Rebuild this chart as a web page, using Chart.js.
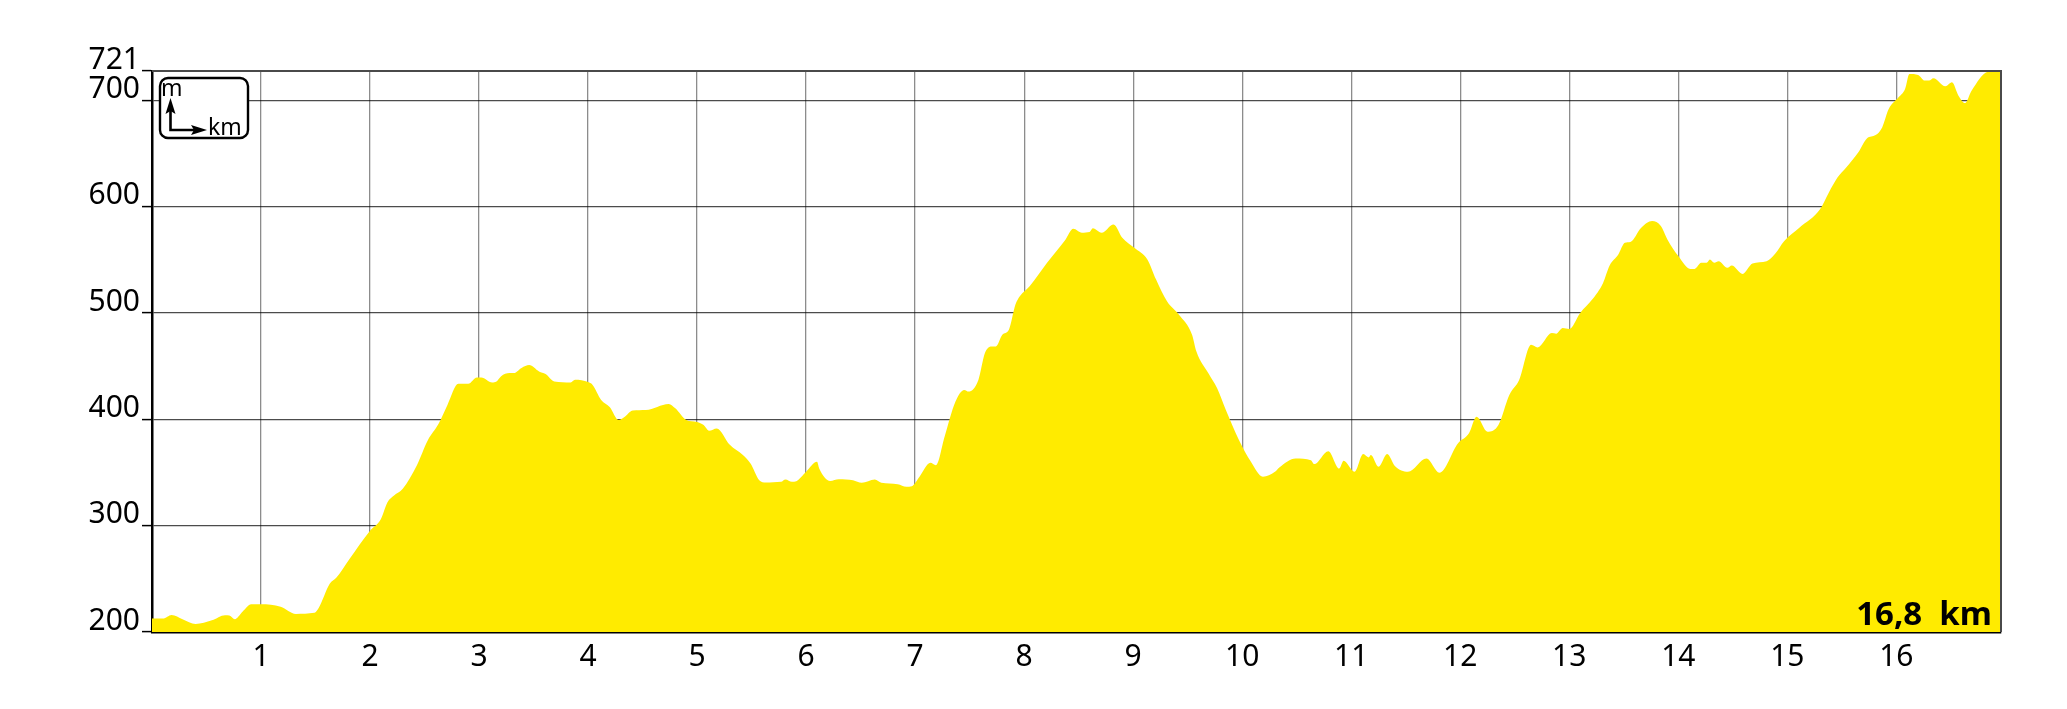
<!DOCTYPE html>
<html>
<head>
<meta charset="utf-8">
<script src="https://cdn.jsdelivr.net/npm/chart.js@4/dist/chart.umd.min.js"></script>
<style>
  html, body { margin: 0; padding: 0; background: #fff; }
  #wrap { width: 2067px; height: 709px; position: relative; }
</style>
</head>
<body>
<div id="wrap"><canvas id="c"></canvas></div>
<script>
// ---- data ----
const distancesKm = [
  0.00, 0.10, 0.18, 0.28, 0.40, 0.55, 0.67, 0.71, 0.76, 0.83, 0.91, 1.00, 1.18, 1.32, 1.49, 1.53,
  1.63, 1.69, 1.81, 2.00, 2.10, 2.16, 2.22, 2.30, 2.43, 2.53, 2.63, 2.71, 2.81, 2.90, 2.98, 3.02,
  3.12, 3.16, 3.20, 3.28, 3.32, 3.39, 3.46, 3.55, 3.61, 3.69, 3.84, 3.88, 4.00, 4.04, 4.12, 4.20,
  4.28, 4.33, 4.41, 4.53, 4.74, 4.80, 4.90, 5.00, 5.06, 5.11, 5.18, 5.30, 5.42, 5.49, 5.57, 5.63,
  5.77, 5.81, 5.87, 5.91, 6.00, 6.10, 6.12, 6.22, 6.30, 6.43, 6.51, 6.63, 6.69, 6.84, 6.92, 6.97,
  7.04, 7.14, 7.19, 7.27, 7.37, 7.45, 7.49, 7.58, 7.64, 7.70, 7.74, 7.80, 7.86, 7.92, 7.96, 8.05,
  8.21, 8.38, 8.45, 8.53, 8.60, 8.63, 8.71, 8.82, 8.90, 9.01, 9.13, 9.21, 9.31, 9.42, 9.54, 9.58,
  9.69, 9.77, 9.85, 9.97, 10.08, 10.19, 10.30, 10.34, 10.49, 10.63, 10.66, 10.79, 10.89, 10.93, 11.03, 11.11,
  11.16, 11.18, 11.25, 11.33, 11.40, 11.52, 11.69, 11.81, 11.98, 12.08, 12.15, 12.25, 12.35, 12.45, 12.54, 12.65,
  12.71, 12.84, 12.88, 12.94, 13.00, 13.10, 13.21, 13.31, 13.37, 13.45, 13.51, 13.56, 13.66, 13.76, 13.84, 13.90,
  14.00, 14.11, 14.15, 14.21, 14.26, 14.29, 14.33, 14.37, 14.45, 14.49, 14.59, 14.68, 14.81, 14.89, 14.97, 15.11,
  15.30, 15.38, 15.46, 15.54, 15.65, 15.73, 15.81, 15.87, 15.93, 16.02, 16.08, 16.12, 16.20, 16.26, 16.30, 16.34,
  16.45, 16.51, 16.57, 16.63, 16.69, 16.84, 16.96
];
const elevationsM = [
  212.6, 212.6, 216.0, 212.0, 207.6, 211.0, 215.8, 215.5, 212.0, 219.0, 226.0, 226.0, 223.7, 217.0, 218.0, 222.7,
  245.4, 251.0, 268.5, 295.3, 306.3, 322.0, 328.4, 334.7, 356.8, 380.4, 396.2, 413.6, 433.4, 433.4, 439.4, 439.4,
  434.7, 435.6, 440.4, 443.5, 443.5, 448.3, 451.0, 445.0, 442.6, 435.6, 434.7, 437.2, 435.0, 432.5, 418.3, 411.4,
  399.4, 401.9, 408.2, 408.8, 414.5, 410.4, 399.4, 397.5, 394.6, 389.3, 391.5, 376.0, 366.4, 358.4, 342.8, 340.6,
  341.2, 343.4, 341.2, 341.8, 350.6, 360.0, 353.8, 342.1, 343.7, 342.8, 340.3, 343.4, 340.3, 339.0, 336.5, 337.1,
  346.0, 359.1, 356.9, 383.6, 416.7, 427.7, 426.1, 437.1, 462.3, 468.6, 468.6, 479.6, 484.3, 507.9, 515.7, 525.2,
  547.2, 569.2, 579.2, 575.5, 576.1, 579.6, 575.5, 583.3, 570.8, 561.3, 550.3, 531.4, 511.0, 498.4, 479.6, 463.8,
  443.4, 429.2, 408.8, 380.5, 360.0, 345.9, 350.6, 354.7, 363.2, 361.6, 357.9, 370.1, 353.8, 361.0, 350.6, 367.3,
  364.2, 366.4, 355.3, 367.3, 356.0, 350.6, 363.2, 349.7, 377.4, 386.8, 402.5, 388.4, 394.7, 423.0, 437.1, 470.1,
  467.6, 481.1, 480.5, 485.8, 484.9, 500.0, 512.6, 528.3, 544.7, 555.0, 566.0, 566.7, 580.2, 586.5, 581.8, 569.2,
  553.5, 541.5, 541.5, 547.2, 547.2, 550.3, 547.2, 548.7, 542.5, 544.7, 536.8, 546.5, 548.7, 556.0, 567.6, 580.2,
  597.5, 613.2, 627.4, 636.8, 650.9, 664.2, 667.3, 674.5, 691.8, 702.8, 710.7, 724.8, 723.9, 718.6, 718.6, 720.8,
  713.2, 717.0, 704.4, 697.5, 709.1, 727.0, 727.6
];
const xTickValues = [1, 2, 3, 4, 5, 6, 7, 8, 9, 10, 11, 12, 13, 14, 15, 16];
const yTickValues = [200, 300, 400, 500, 600, 700, 727.6];
const yTickLabels = ['200', '300', '400', '500', '600', '700', '721'];
const xMin = 0, xMax = 16.96;
const yMin = 200, yMax = 727.6;
const totalLabel = '16,8  km';
const unitY = 'm', unitX = 'km';

// ---- chart ----
const FONT = '"Noto Sans", "DejaVu Sans", sans-serif';
const points = distancesKm.map((d, i) => ({ x: d, y: elevationsM[i] }));

const decor = {
  id: 'decor',
  afterDraw(chart) {
    const { ctx, chartArea: a } = chart;
    ctx.save();
    // top & right frame
    ctx.strokeStyle = '#4a4a4a';
    ctx.lineWidth = 2;
    ctx.beginPath();
    ctx.moveTo(a.left, a.top);
    ctx.lineTo(a.right, a.top);
    ctx.lineTo(a.right, a.bottom);
    ctx.stroke();

    // unit box
    const bx = a.left + 8, by = a.top + 7, bw = 88, bh = 60;
    ctx.strokeStyle = '#000';
    ctx.lineWidth = 2.4;
    ctx.fillStyle = '#fff';
    ctx.beginPath();
    ctx.roundRect(bx, by, bw, bh, 8);
    ctx.fill();
    ctx.stroke();
    ctx.fillStyle = '#000';
    ctx.font = '23px ' + FONT;
    ctx.textAlign = 'left';
    ctx.textBaseline = 'alphabetic';
    ctx.fillText(unitY, bx + 1, by + 18);
    ctx.fillText(unitX, bx + 48, by + 57);
    const ox = bx + 10.5, oy = by + 52;
    ctx.lineWidth = 2.6;
    ctx.beginPath();
    ctx.moveTo(ox, oy); ctx.lineTo(ox, by + 32);
    ctx.moveTo(ox - 1.3, oy); ctx.lineTo(bx + 35, oy);
    ctx.stroke();
    ctx.beginPath();
    ctx.moveTo(ox, by + 20); ctx.lineTo(ox - 5, by + 36); ctx.lineTo(ox, by + 33); ctx.lineTo(ox + 5, by + 36);
    ctx.closePath(); ctx.fill();
    ctx.beginPath();
    ctx.moveTo(bx + 47, oy); ctx.lineTo(bx + 31, oy - 5); ctx.lineTo(bx + 34, oy); ctx.lineTo(bx + 31, oy + 5);
    ctx.closePath(); ctx.fill();

    // total distance label
    ctx.font = 'bold 33px ' + FONT;
    ctx.textAlign = 'right';
    ctx.textBaseline = 'alphabetic';
    ctx.fillText(totalLabel, a.right - 9, a.bottom - 7);
    ctx.restore();
  }
};

new Chart(document.getElementById('c'), {
  type: 'line',
  data: {
    datasets: [{
      data: points,
      borderWidth: 0,
      borderColor: 'rgba(0,0,0,0)',
      backgroundColor: '#FFEB00',
      fill: 'start',
      pointRadius: 0,
      cubicInterpolationMode: 'monotone'
    }]
  },
  options: {
    responsive: true,
    maintainAspectRatio: false,
    animation: false,
    events: [],
    layout: { padding: { top: 71, right: 66, left: 0, bottom: 0 } },
    plugins: { legend: { display: false }, tooltip: { enabled: false } },
    scales: {
      x: {
        type: 'linear',
        min: xMin, max: xMax,
        z: 1,
        afterBuildTicks: s => { s.ticks = xTickValues.map(v => ({ value: v })); },
        afterFit: s => { s.height = 709 - 632; },
        ticks: {
          autoSkip: false, maxRotation: 0, padding: 7,
          color: '#000',
          font: { family: FONT, size: 30 },
          callback: v => String(v)
        },
        grid: { color: 'rgba(0,0,0,0.45)', lineWidth: 1.3, drawTicks: false },
        border: { display: true, color: '#000', width: 2.5 }
      },
      y: {
        type: 'linear',
        min: yMin, max: yMax,
        z: 1,
        afterBuildTicks: s => { s.ticks = yTickValues.map(v => ({ value: v })); },
        afterFit: s => { s.width = 152; },
        ticks: {
          autoSkip: false, padding: 2, labelOffset: -11,
          color: '#000',
          font: { family: FONT, size: 30 },
          callback: (v, i) => yTickLabels[i]
        },
        grid: { color: 'rgba(0,0,0,0.7)', lineWidth: 1.2, tickLength: 10, tickColor: '#000', tickWidth: 1.5 },
        border: { display: true, color: '#000', width: 2.5 }
      }
    }
  },
  plugins: [decor]
});
</script>
</body>
</html>
